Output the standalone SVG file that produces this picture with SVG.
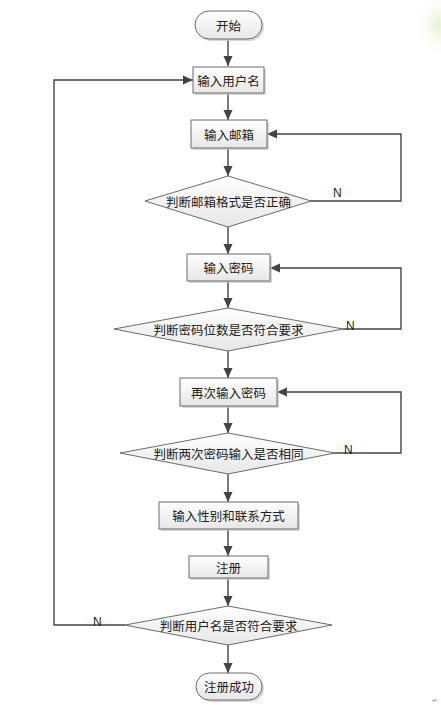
<svg xmlns="http://www.w3.org/2000/svg" width="441" height="705" viewBox="0 0 441 705">
<style>
.box{fill:url(#g);stroke:#6b6b6b;stroke-width:1}
.sh{fill:#c8c8c8;opacity:0.7}
.t{font-family:"Noto Sans CJK SC","Liberation Sans",sans-serif;font-size:12.5px;fill:#222;text-anchor:middle;dominant-baseline:central}
.n{font-family:"Liberation Sans",sans-serif;font-size:12px;fill:#222}
.c{fill:none;stroke:#444;stroke-width:1.4}
</style>
<defs>
<linearGradient id="g" x1="0" y1="0" x2="0" y2="1">
<stop offset="0" stop-color="#ffffff"/>
<stop offset="1" stop-color="#e6e6e6"/>
</linearGradient>
<radialGradient id="leaf" cx="0.5" cy="0.5" r="0.5">
<stop offset="0" stop-color="#e8efcf"/>
<stop offset="1" stop-color="#ffffff" stop-opacity="0"/>
</radialGradient>
<marker id="a" viewBox="0 0 10 10" refX="10" refY="5" markerWidth="7" markerHeight="7" orient="auto" markerUnits="userSpaceOnUse">
<path d="M0,0 L10,5 L0,10 z" fill="#444"/>
</marker>
<marker id="b" viewBox="0 0 10 10" refX="10" refY="5" markerWidth="10" markerHeight="10" orient="auto" markerUnits="userSpaceOnUse">
<path d="M0,0.5 L10,5 L0,9.5 z" fill="#444"/>
</marker>
</defs>
<rect width="441" height="705" fill="#fff"/>
<ellipse cx="438" cy="25" rx="22" ry="35" fill="url(#leaf)"/>

<g id="connectors">
<line class="c" x1="228" y1="39" x2="228" y2="66" marker-end="url(#b)"/>
<line class="c" x1="228" y1="93" x2="228" y2="120" marker-end="url(#b)"/>
<line class="c" x1="228" y1="148" x2="228" y2="176" marker-end="url(#b)"/>
<polyline class="c" points="311,201 401,201 401,134 267,134" marker-end="url(#b)"/>
<line class="c" x1="228" y1="227" x2="228" y2="254" marker-end="url(#b)"/>
<polyline class="c" points="343,329 401,329 401,268 270,268" marker-end="url(#b)"/>
<line class="c" x1="228" y1="281" x2="228" y2="308" marker-end="url(#b)"/>
<line class="c" x1="228" y1="351" x2="228" y2="378" marker-end="url(#b)"/>
<polyline class="c" points="335,453 401,453 401,392 277,392" marker-end="url(#b)"/>
<line class="c" x1="228" y1="406" x2="228" y2="433" marker-end="url(#b)"/>
<line class="c" x1="228" y1="474" x2="228" y2="502" marker-end="url(#b)"/>
<line class="c" x1="228" y1="529" x2="228" y2="556" marker-end="url(#b)"/>
<line class="c" x1="228" y1="578" x2="228" y2="606" marker-end="url(#b)"/>
<polyline class="c" points="125,625 54,625 54,80 193,80" marker-end="url(#b)"/>
<line class="c" x1="228" y1="645" x2="228" y2="673" marker-end="url(#b)"/>
<text class="n" x="333" y="197">N</text>
<text class="n" x="346" y="330">N</text>
<text class="n" x="344" y="454">N</text>
<text class="n" x="93" y="626">N</text>
</g>

<g id="start">
<rect class="sh" x="197" y="13" width="67" height="28" rx="14"/>
<rect class="box" x="195" y="11" width="67" height="28" rx="14"/>
<text class="t" x="228.5" y="25">开始</text>
</g>
<g id="input-username">
<rect class="sh" x="195" y="69" width="71" height="26"/>
<rect class="box" x="193" y="67" width="71" height="26"/>
<text class="t" x="228.5" y="80">输入用户名</text>
</g>
<g id="input-email">
<rect class="sh" x="193" y="122" width="76" height="28"/>
<rect class="box" x="191" y="120" width="76" height="28"/>
<text class="t" x="229" y="134">输入邮箱</text>
</g>
<g id="check-email">
<polygon class="box" points="228,176 311,201 228,227 145,201"/>
<text class="t" x="228.5" y="201">判断邮箱格式是否正确</text>
</g>
<g id="input-password">
<rect class="sh" x="189" y="256" width="83" height="27"/>
<rect class="box" x="187" y="254" width="83" height="27"/>
<text class="t" x="228.5" y="267.5">输入密码</text>
</g>
<g id="check-password-length">
<polygon class="box" points="228,308 343,329 228,351 114,329"/>
<text class="t" x="228.5" y="329">判断密码位数是否符合要求</text>
</g>
<g id="reenter-password">
<rect class="sh" x="182" y="380" width="97" height="28"/>
<rect class="box" x="180" y="378" width="97" height="28"/>
<text class="t" x="228.5" y="392">再次输入密码</text>
</g>
<g id="check-password-match">
<polygon class="box" points="228,433 335,453 228,474 120,453"/>
<text class="t" x="228.5" y="453">判断两次密码输入是否相同</text>
</g>
<g id="input-gender-contact">
<rect class="sh" x="161" y="504" width="139" height="27"/>
<rect class="box" x="159" y="502" width="139" height="27"/>
<text class="t" x="228.5" y="515.5">输入性别和联系方式</text>
</g>
<g id="register">
<rect class="sh" x="191" y="558" width="79" height="22"/>
<rect class="box" x="189" y="556" width="79" height="22"/>
<text class="t" x="228.5" y="567">注册</text>
</g>
<g id="check-username">
<polygon class="box" points="228,606 332,625 228,645 125,625"/>
<text class="t" x="228.5" y="625">判断用户名是否符合要求</text>
</g>
<g id="success">
<rect class="sh" x="198" y="675" width="66" height="27" rx="13.5"/>
<rect class="box" x="196" y="673" width="66" height="27" rx="13.5"/>
<text class="t" x="229" y="686.5">注册成功</text>
</g>
<text x="435" y="703" font-family="DejaVu Sans,sans-serif" font-size="7" fill="#888" text-anchor="middle">↵</text>
</svg>
